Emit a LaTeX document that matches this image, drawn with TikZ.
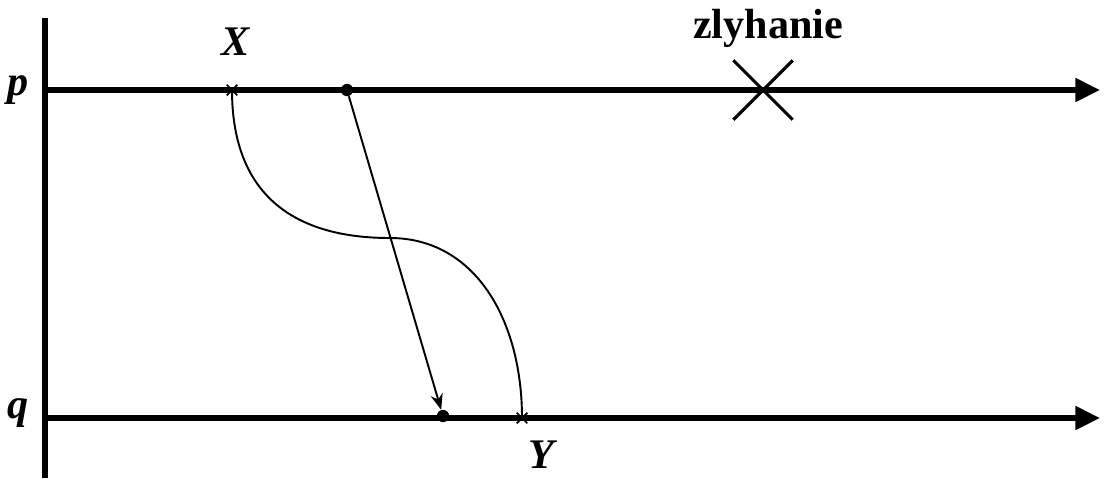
\documentclass[tikz,border=0pt]{standalone}
\usepackage{fontspec}
\setmainfont{Liberation Serif}
\usetikzlibrary{arrows.meta,shapes.misc}

\begin{document}
\begin{tikzpicture}[x=0.02cm,y=-0.02cm,
    axis/.style={line width=3pt},
    timeline/.style={line width=3pt, -{Triangle[length=14pt,width=13pt]}},
    msg/.style={line width=1.1pt},
    event/.style={circle, fill, inner sep=0pt, minimum size=7pt},
    tick/.style={cross out, draw, line width=1pt, inner sep=0pt, minimum size=5pt},
    lbl/.style={font=\fontsize{24}{24}\selectfont\bfseries\itshape}]
                \useasboundingbox (0,0) rectangle (1104,478);

                % Nodes
                \coordinate (top) at (45,18);
                \coordinate (bot) at (45,478);
                \coordinate (pstart) at (45,90);
                \coordinate (pend) at (1100,90);
                \coordinate (qstart) at (45,418);
                \coordinate (qend) at (1100,418);
                \node[tick] (X) at (232,90) {};
                \node[event] (pdot) at (347,90) {};
                \node[event] (qdot) at (443,416) {};
                \node[tick] (Y) at (522,418) {};
                \node[cross out, draw, line width=1.8pt, minimum size=32pt, inner sep=0pt] (fail) at (763,90) {};
                \coordinate (mid) at (390,238);

                % Labels
                \node[lbl] (p) at (18,90) {p};
                \node[lbl] (q) at (18,413) {q};
                \node[lbl] (lblX) at (236,42) {X};
                \node[lbl] (lblY) at (541,455) {Y};
                \node[font=\fontsize{24}{24}\selectfont\bfseries] (lblfail) at (768,28) {zlyhanie};

                % Edges
                \draw[axis] (top)--(bot);
                \draw[timeline] (pstart)--(pend);
                \draw[timeline] (qstart)--(qend);
                \draw[msg, -{Stealth[length=9pt,width=7pt]}] (pdot)--(qdot);
                \draw[msg] (X.center) .. controls (232,200) and (300,238) .. (mid)
                    .. controls (475,238) and (522,320) .. (Y.center);
            \end{tikzpicture}
\end{document}
